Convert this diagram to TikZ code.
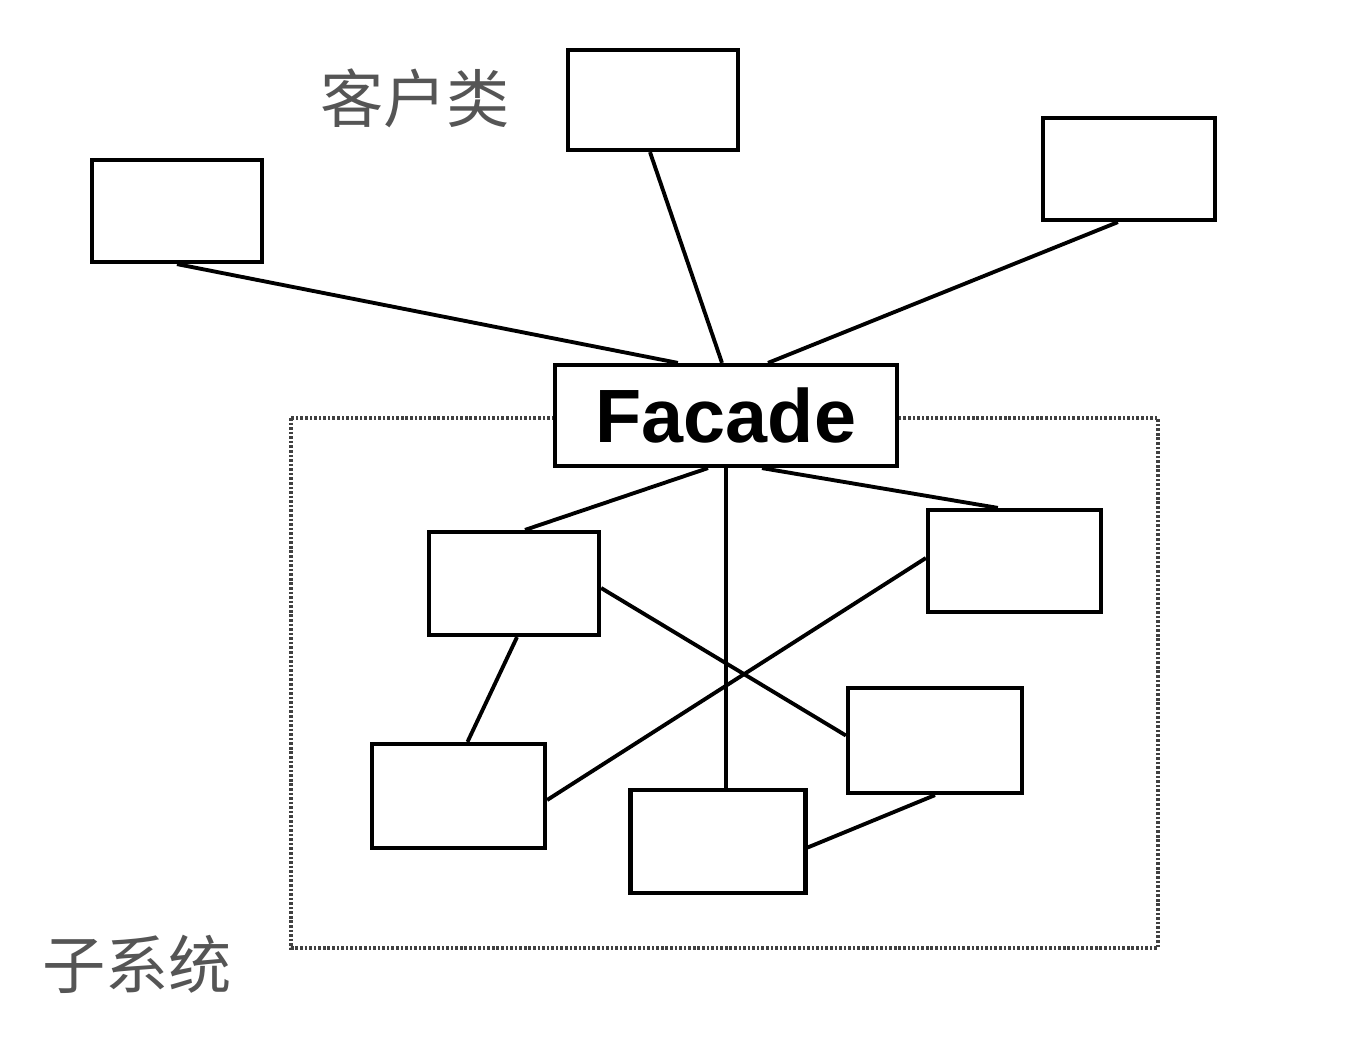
\documentclass[tikz,border=0pt]{standalone}
\usepackage{fontspec}
\setmainfont{Liberation Sans}
\newfontfamily\cjk{Noto Sans CJK SC}
\usetikzlibrary{calc}
\definecolor{txtgray}{HTML}{555555}
\begin{document}
\begin{tikzpicture}[x=0.02cm,y=-0.02cm,
  cls/.style={draw=black,line width=2.4pt,fill=white,inner sep=0pt,minimum width=#1*0.02cm},
  cls/.default=172,
  link/.style={draw=black,line width=2.2pt},
  lbl/.style={font=\cjk\fontsize{36}{40}\selectfont,text=txtgray,inner sep=0pt}]
\useasboundingbox (0,0) rectangle (1346,1055);
% subsystem frame
\draw[draw=black!75,line width=2.2pt,dash pattern=on 1.5pt off 1.1pt] (291,418) rectangle (1158,948);
% client classes
\node[cls=170,minimum height=2.04cm] (L) at (177,211) {};
\node[cls=170,minimum height=2cm] (T) at (653,100) {};
\node[cls=172,minimum height=2.04cm] (R) at (1129,169) {};
% facade
\node[cls=342,minimum height=2.02cm,font=\bfseries\fontsize{43}{45}\selectfont] (F) at (726,415.5) {Facade};
% subsystem classes
\node[cls=170,minimum height=2.06cm] (A) at (514,583.5) {};
\node[cls=173,minimum height=2.04cm] (B) at (1014.5,561) {};
\node[cls=174,minimum height=2.1cm] (C) at (935,740.5) {};
\node[cls=173,minimum height=2.08cm] (D) at (458.5,796) {};
\node[cls=175,minimum height=2.06cm] (E) at (718,841.5) {};
% labels
\node[lbl] (k) at (415,98) {客户类};
\node[lbl] (s) at (137,964) {子系统};
% client links
\draw[link] (L.south) -- ($(F.north west)+(125,0)$);
\draw[link] ($(T.south)+(-3,0)$) -- ($(F.north)+(-4,0)$);
\draw[link] ($(R.south west)+(77,0)$) -- ($(F.north)+(42,0)$);
% facade links
\draw[link] ($(F.south)+(-18,0)$) -- ($(A.north)+(11,0)$);
\draw[link] (F.south) -- (F.south |- E.north);
\draw[link] ($(F.south)+(36,0)$) -- ($(B.north west)+(72,0)$);
% internal links
\draw[link] ($(A.east)+(0,4.5)$) -- ($(C.west)+(0,-5)$);
\draw[link] ($(B.west)+(0,-3)$) -- ($(D.east)+(0,4)$);
\draw[link] ($(A.south)+(3,0)$) -- ($(D.north)+(9,0)$);
\draw[link] (C.south) -- ($(E.east)+(0,6)$);
\end{tikzpicture}
\end{document}
